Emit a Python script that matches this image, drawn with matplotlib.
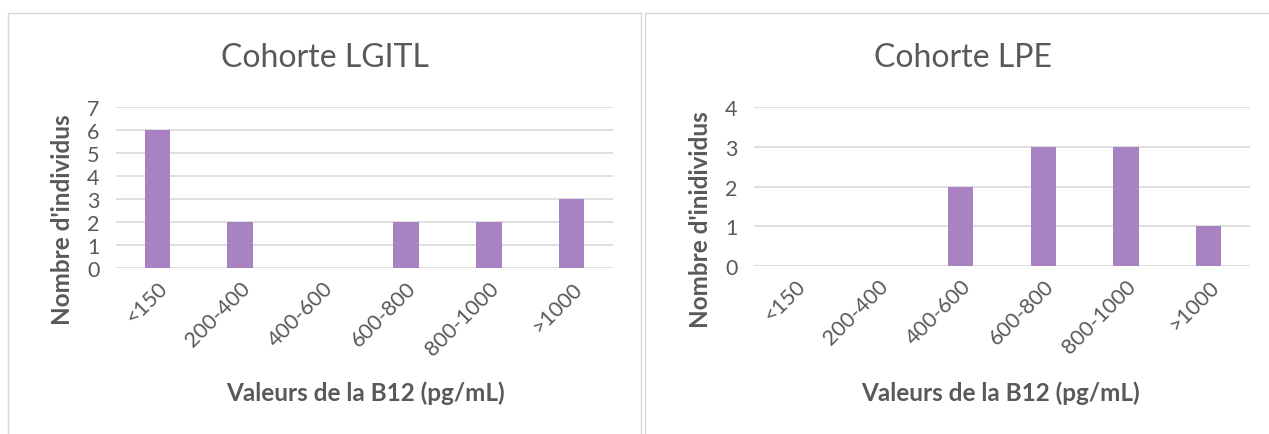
import matplotlib.pyplot as plt
from matplotlib.patches import Rectangle

categories = ["<150", "200-400", "400-600", "600-800", "800-1000", ">1000"]
lgitl_counts = [6, 2, 0, 2, 2, 3]
lpe_counts = [0, 0, 2, 3, 3, 1]

BAR_COLOR = "#A982C4"
GRID_COLOR = "#D9D9D9"
TEXT_COLOR = "#595959"

plt.rcParams["font.family"] = ["Lato", "DejaVu Sans"]

fig = plt.figure(figsize=(12.69, 4.35), dpi=100)

# panel frames, like the two spreadsheet chart boxes
fig.patches.append(Rectangle((8 / 1269, -0.1), 633 / 1269, 1 - 14 / 435 + 0.1,
                             transform=fig.transFigure, fill=False,
                             edgecolor="#D9D9D9", linewidth=1))
fig.patches.append(Rectangle((645 / 1269, -0.1), 700 / 1269, 1 - 14 / 435 + 0.1,
                             transform=fig.transFigure, fill=False,
                             edgecolor="#D9D9D9", linewidth=1))


def draw_panel(rect, counts, ymax, title, ylabel, title_x, ylabel_x, xlabel_x):
    ax = fig.add_axes(rect)
    x = range(len(categories))
    ax.bar(x, counts, width=0.31, color=BAR_COLOR, zorder=3)
    ax.set_xlim(-0.5, len(categories) - 0.5)
    ax.set_ylim(0, ymax)
    ax.set_yticks(range(ymax + 1))
    ax.grid(axis="y", color=GRID_COLOR, linewidth=1.2, zorder=0)
    for s in ax.spines.values():
        s.set_visible(False)
    ax.tick_params(length=0, labelsize=15.5, colors=TEXT_COLOR)
    ax.tick_params(axis="y", pad=12)
    ax.set_xticks(list(x))
    ax.set_xticklabels(categories, rotation=45, ha="right",
                       rotation_mode="anchor")
    ax.tick_params(axis="x", pad=7)
    fig.text(title_x, 1 - 58 / 435, title, ha="center", va="center",
             fontsize=23, color=TEXT_COLOR)
    fig.text(ylabel_x, 1 - 220 / 435, ylabel, ha="center", va="center",
             rotation=90, fontsize=17.5, fontweight="bold", color=TEXT_COLOR)
    fig.text(xlabel_x, 1 - 393 / 435, "Valeurs de la B12 (pg/mL)",
             ha="center", va="center", fontsize=17.5, fontweight="bold",
             color=TEXT_COLOR)
    return ax


draw_panel([116 / 1269, 1 - 269 / 435, 497 / 1269, 161 / 435],
           lgitl_counts, 7, "Cohorte LGITL", "Nombre d'individus",
           325 / 1269, 62 / 1269, 365 / 1269)
draw_panel([754 / 1269, 1 - 267 / 435, 496 / 1269, 159 / 435],
           lpe_counts, 4, "Cohorte LPE", "Nombre d'inidividus",
           963 / 1269, 700 / 1269, 1000 / 1269)

fig.savefig("out.png", dpi=100)
